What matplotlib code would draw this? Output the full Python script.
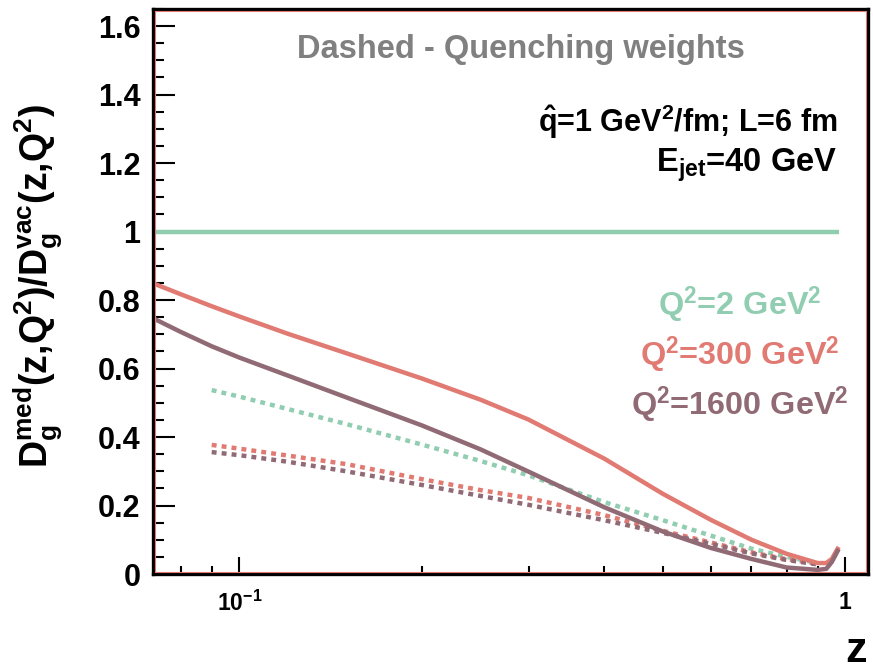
import matplotlib
matplotlib.use("Agg")
import matplotlib.pyplot as plt
from matplotlib.patches import Rectangle
from matplotlib.ticker import FixedLocator, NullFormatter, FixedFormatter, MultipleLocator, FuncFormatter

plt.rcParams['font.family'] = ['Liberation Sans', 'DejaVu Sans']
plt.rcParams['font.weight'] = 'bold'
plt.rcParams['mathtext.fontset'] = 'custom'
plt.rcParams['mathtext.rm'] = 'Liberation Sans:bold'
plt.rcParams['mathtext.it'] = 'Liberation Sans:bold'
plt.rcParams['mathtext.bf'] = 'Liberation Sans:bold'
plt.rcParams['mathtext.sf'] = 'Liberation Sans:bold'
plt.rcParams['mathtext.default'] = 'rm'

# ---- data ----
z_grid = [0.072, 0.08, 0.09, 0.1, 0.12, 0.15, 0.2, 0.25, 0.3, 0.4, 0.5, 0.6, 0.7, 0.8, 0.9, 0.93, 0.95, 0.975]
q2_2_solid_z = [0.072, 0.975]
q2_2_solid = [1.0, 1.0]
q2_300_solid = [0.849, 0.817, 0.782, 0.752, 0.702, 0.645, 0.571, 0.509, 0.451, 0.337, 0.234, 0.158, 0.100, 0.059, 0.032, 0.032, 0.044, 0.079]
q2_1600_solid = [0.747, 0.707, 0.665, 0.632, 0.580, 0.516, 0.434, 0.364, 0.299, 0.195, 0.124, 0.076, 0.044, 0.019, 0.012, 0.015, 0.035, 0.073]

z_qw = [0.09, 0.1, 0.12, 0.15, 0.2, 0.25, 0.3, 0.4, 0.5, 0.6, 0.7, 0.8, 0.9]
q2_2_qw = [0.537, 0.518, 0.482, 0.438, 0.378, 0.330, 0.288, 0.210, 0.157, 0.112, 0.074, 0.050, 0.032]
q2_300_qw = [0.377, 0.366, 0.346, 0.321, 0.277, 0.245, 0.222, 0.172, 0.126, 0.092, 0.063, 0.043, 0.030]
q2_1600_qw = [0.356, 0.347, 0.328, 0.300, 0.260, 0.228, 0.202, 0.157, 0.120, 0.088, 0.060, 0.041, 0.028]

labels = ['Q$^2$=2 GeV$^2$', 'Q$^2$=300 GeV$^2$', 'Q$^2$=1600 GeV$^2$']
colors = ['#90cdb1', '#e07a72', '#906a74']

fig = plt.figure(figsize=(8.73, 6.71), dpi=100)
ax = fig.add_axes([153/873, 1-574/671, 715/873, 565/671])

lw = 3.2
dots = (0, (1.1, 1.15))
ax.plot(q2_2_solid_z, q2_2_solid, color=colors[0], lw=lw, solid_capstyle='butt')
ax.plot(z_qw, q2_2_qw, color=colors[0], lw=lw, linestyle=dots, dash_capstyle='butt')
ax.plot(z_qw, q2_300_qw, color=colors[1], lw=lw, linestyle=dots, dash_capstyle='butt')
ax.plot(z_qw, q2_1600_qw, color=colors[2], lw=lw, linestyle=dots, dash_capstyle='butt')
ax.plot(z_grid, q2_300_solid, color=colors[1], lw=lw, solid_capstyle='butt', solid_joinstyle='round')
ax.plot(z_grid, q2_1600_solid, color=colors[2], lw=lw, solid_capstyle='butt', solid_joinstyle='round')

ax.set_xscale('log')
ax.set_xlim(0.072, 1.09)
ax.set_ylim(0, 1.65)

ax.xaxis.set_major_locator(FixedLocator([0.1, 1.0]))
ax.xaxis.set_major_formatter(FixedFormatter(['10$^{-1}$', '1']))
ax.xaxis.set_minor_locator(FixedLocator([0.08, 0.09, 0.2, 0.3, 0.4, 0.5, 0.6, 0.7, 0.8, 0.9]))
ax.xaxis.set_minor_formatter(NullFormatter())
ax.yaxis.set_major_locator(MultipleLocator(0.2))
ax.yaxis.set_minor_locator(MultipleLocator(0.05))
ax.yaxis.set_major_formatter(FuncFormatter(lambda v, p: '0' if abs(v) < 1e-9 else ('1' if abs(v-1) < 1e-9 else f'{v:.1f}')))

ax.tick_params(axis='y', which='major', direction='in', length=16, width=1.5, labelsize=22, pad=9)
ax.tick_params(axis='y', which='minor', direction='in', length=8, width=1.5)
ax.tick_params(axis='x', which='major', direction='in', length=12, width=1.5, labelsize=16.5, pad=12)
ax.tick_params(axis='x', which='minor', direction='in', length=6, width=1.5)
for s in ax.spines.values():
    s.set_linewidth(2.4)
    s.set_color('black')

# thin red inner frame line
dx, dy = 2.0/715, 2.0/565
ax.add_patch(Rectangle((dx, dy), 1-2*dx, 1-2*dy, transform=ax.transAxes, fill=False,
                       ec=colors[1], lw=0.8, zorder=5, clip_on=False))

ax.text(0.515, 0.913, 'Dashed - Quenching weights', transform=ax.transAxes, ha='center', va='baseline',
        fontsize=23.5, color='#808080', fontweight='bold')
ax.text(0.957, 0.782, '$\\hat{q}$=1 GeV$^2$/fm; L=6 fm', transform=ax.transAxes, ha='right', va='baseline',
        fontsize=22, color='black', fontweight='bold')
ax.text(0.957, 0.712, 'E$_{jet}$=40 GeV', transform=ax.transAxes, ha='right', va='baseline',
        fontsize=23.5, color='black', fontweight='bold')
for lab, col, yy in zip(labels, colors, [0.458, 0.370, 0.281]):
    ax.text(0.821, yy, lab, transform=ax.transAxes, ha='center', va='baseline', fontsize=23.3,
            color=col, fontweight='bold')

fig.text(867/873, 9/671, 'z', ha='right', va='baseline', fontsize=31, fontweight='bold')
fig.text(38/873, 1-468/671, 'D$_g^{med}$(z,Q$^2$)/D$_g^{vac}$(z,Q$^2$)', rotation=90,
         ha='center', va='bottom', fontsize=27, fontweight='bold')

fig.savefig('out.png', dpi=100)
